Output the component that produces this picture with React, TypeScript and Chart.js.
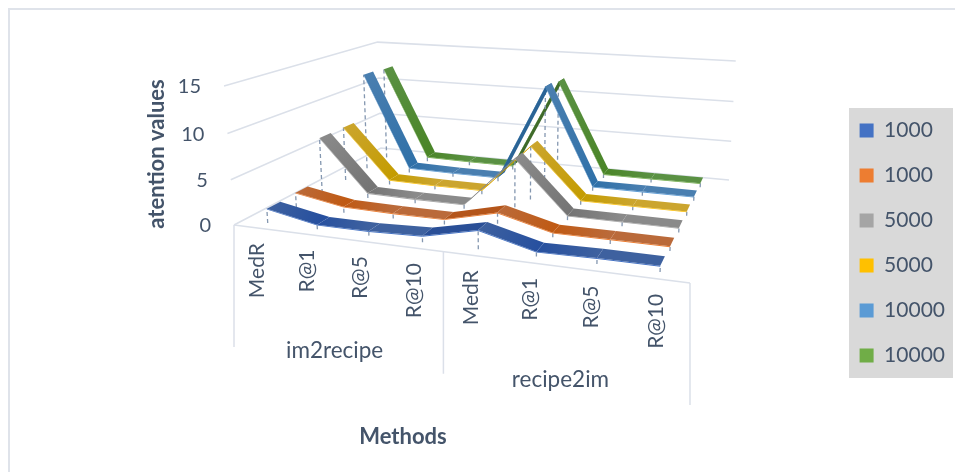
import React, { useEffect, useRef } from "react";
import { Chart, registerables } from "chart.js";

Chart.register(...registerables);

// Axis content
const categories = ["MedR", "R@1", "R@5", "R@10", "MedR", "R@1", "R@5", "R@10"];
const groupLabels = ["im2recipe", "recipe2im"];
const valueTicks = [0, 5, 10, 15];
const seriesNames = ["1000", "1000", "5000", "5000", "10000", "10000"];

// Attention values, one list per series, front of the depth axis first
const series1000a = [1.6, 0.5, 0.5, 0.7, 2.0, 0.5, 0.6, 0.6];
const series1000b = [1.7, 0.7, 0.6, 0.6, 2.0, 0.5, 0.5, 0.5];
const series5000a = [6.7, 0.6, 0.5, 0.5, 6.4, 0.5, 0.5, 0.5];
const series5000b = [6.7, 0.6, 0.5, 0.5, 6.4, 0.5, 0.5, 0.5];
const series10000a = [12.3, 0.6, 0.5, 0.5, 12.3, 0.5, 0.5, 0.5];
const series10000b = [12.1, 0.6, 0.5, 0.5, 11.9, 0.5, 0.5, 0.5];
const allSeries = [series1000a, series1000b, series5000a, series5000b, series10000a, series10000b];

// Shading of each tape: swatch/edge, shadowed stretch, lit stretch, climbing stretch
const edgeColors = ["#4472c4", "#ed7d31", "#a5a5a5", "#ffc000", "#5b9bd5", "#70ad47"];
const deepColors = ["#27509f", "#c05a14", "#747474", "#c49c00", "#2f70a8", "#4a8527"];
const hazeColors = ["#3e619f", "#ba6a3a", "#8a8a8a", "#cba52e", "#4a7fb0", "#5a9143"];
const riseColors = ["#2a4f97", "#b4551a", "#7f7f7f", "#bf9000", "#2a6496", "#3f6b2a"];

const INK = "#44546a";
const GRID = "#dbe0e9";
const DROP = "#8497b0";
const FONT = "Lato";
const PAD_TOP = 14;
const PAD_RIGHT = 0;
const MAX_VALUE = 15;
const CATEGORY_COUNT = categories.length;
const TAPE_DEPTH = 0.075;
const TAPE_THICKNESS = 0.1;
const PANEL_DROP = 122;

type Pt = { x: number; y: number };

// Perspective camera: maps (along, depth, height), each 0..1, onto the canvas plane
function camera(u: number, w: number, z: number): Pt {
  const den = -0.15076 * u + 0.32727 * w - 0.035 * z + 1;
  return {
    x: (351.97 * u + 271.69 * w - 17.8 * z + 234) / den,
    y: (15.33 * u - 28.56 * w - 142 * z + 225) / den,
  };
}

const depthOf = (s: number) => 0.05 + 0.165 * s;
const alongOf = (c: number) => (c + 0.5) / CATEGORY_COUNT;
const point = (c: number, w: number, v: number) => camera(alongOf(c), w, v / MAX_VALUE);

function gridLine(points: Pt[]) {
  return {
    data: points,
    borderColor: GRID,
    borderWidth: 1.5,
    pointRadius: 0,
    fill: false,
    tension: 0,
    clip: false,
  };
}

function face(points: Pt[], background: any) {
  return {
    data: [...points, points[0]],
    backgroundColor: background,
    borderWidth: 0,
    pointRadius: 0,
    fill: "shape",
    tension: 0,
    clip: false,
  };
}

// Colour run of the top face for each stretch between two categories
function stretchColors(s: number, i: number): [string, string] {
  const deep = deepColors[s];
  const haze = hazeColors[s];
  const stage = i % 7;
  if (stage === 0 || stage === 4) return [haze, deep];
  if (stage === 1 || stage === 5) return [deep, haze];
  if (stage === 3) return [riseColors[s], riseColors[s]];
  return [haze, haze];
}

function buildDatasets() {
  const sets: any[] = [];

  // Side and back walls
  valueTicks.forEach((t) => {
    const z = t / MAX_VALUE;
    sets.push(gridLine([camera(0, 0, z), camera(0, 1, z), camera(1, 1, z)]));
  });

  // Front panel that carries the category labels
  const floorFront = [camera(0, 0, 0), camera(0.5, 0, 0), camera(1, 0, 0)];
  sets.push(gridLine([floorFront[0], floorFront[2]]));
  floorFront.forEach((p) => sets.push(gridLine([p, { x: p.x, y: p.y + PANEL_DROP }])));

  // Back series first so nearer tapes cover them
  for (let s = allSeries.length - 1; s >= 0; s--) {
    const values = allSeries[s];
    const near = depthOf(s);
    const far = near + TAPE_DEPTH;

    values.forEach((v, c) => {
      sets.push({
        data: [point(c, near, 0), point(c, near, v)],
        borderColor: DROP,
        borderWidth: 1.3,
        borderDash: [4, 3],
        pointRadius: 0,
        fill: false,
        clip: false,
      });
    });

    for (let c = 0; c < values.length - 1; c++) {
      const a = values[c];
      const b = values[c + 1];
      sets.push(
        face(
          [
            point(c, near, a),
            point(c + 1, near, b),
            point(c + 1, near, b - TAPE_THICKNESS),
            point(c, near, a - TAPE_THICKNESS),
          ],
          edgeColors[s]
        )
      );
      const [from, to] = stretchColors(s, c);
      const start = point(c, near, a);
      const end = point(c + 1, near, b);
      sets.push(
        face([start, end, point(c + 1, far, b), point(c, far, a)], (ctx: any) => {
          // Scale values equal canvas pixels, so the gradient can run between data points
          const g = ctx.chart.ctx.createLinearGradient(start.x, start.y, end.x, end.y);
          g.addColorStop(0, from);
          g.addColorStop(1, to);
          return g;
        })
      );
    }
  }

  // The first dataset is painted last
  return sets.reverse();
}

const chartDecor = {
  id: "chartDecor",
  beforeDraw(chart: any) {
    const { ctx } = chart;
    ctx.save();
    ctx.fillStyle = "#ffffff";
    ctx.fillRect(0, 0, chart.width, chart.height);
    ctx.fillStyle = "#dfe3ea";
    ctx.fillRect(8, 8, 947, 2);
    ctx.fillRect(8, 8, 2, 464);
    ctx.fillStyle = "#d9d9d9";
    ctx.fillRect(849, 108, 104, 270);
    ctx.restore();
  },
  afterDraw(chart: any) {
    const { ctx } = chart;
    const px = (p: Pt) => ({
      x: chart.scales.x.getPixelForValue(p.x),
      y: chart.scales.y.getPixelForValue(p.y),
    });
    ctx.save();
    ctx.fillStyle = INK;
    ctx.textBaseline = "middle";

    ctx.font = `20px ${FONT}`;
    ctx.textAlign = "right";
    valueTicks.forEach((t) => {
      const p = px(camera(0, 0, t / MAX_VALUE));
      ctx.fillText(String(t), p.x - 23, p.y + 1);
    });

    ctx.font = `21px ${FONT}`;
    categories.forEach((label, c) => {
      const p = px(camera(alongOf(c), 0, 0));
      ctx.save();
      ctx.translate(p.x - 1, p.y + 15);
      ctx.rotate(-Math.PI / 2);
      ctx.textAlign = "right";
      ctx.fillText(label, 0, 0);
      ctx.restore();
    });

    ctx.textAlign = "center";
    ctx.font = `22.5px ${FONT}`;
    groupLabels.forEach((label, g) => {
      const p = px(camera((g + 0.5) / groupLabels.length, 0, 0));
      ctx.fillText(label, p.x + (g === 0 ? 0 : -1), p.y + 113);
    });

    ctx.font = `bold 22px ${FONT}`;
    ctx.fillText("Methods", 403, 437);
    ctx.save();
    ctx.translate(157, 154);
    ctx.rotate(-Math.PI / 2);
    ctx.fillText("atention values", 0, 0);
    ctx.restore();
    ctx.restore();
  },
};

export default function App() {
  const canvasRef = useRef<HTMLCanvasElement | null>(null);

  useEffect(() => {
    if (!canvasRef.current) return;
    const chart = new Chart(canvasRef.current, {
      type: "line",
      data: { datasets: buildDatasets() },
      plugins: [chartDecor],
      options: {
        animation: false,
        responsive: false,
        layout: { padding: { top: PAD_TOP, right: PAD_RIGHT } },
        plugins: {
          tooltip: { enabled: false },
          legend: {
            position: "right",
            labels: {
              boxWidth: 14,
              boxHeight: 14,
              padding: 24,
              color: INK,
              font: { family: FONT, size: 21 },
              generateLabels: () =>
                seriesNames.map((text, i) => ({
                  text,
                  fillStyle: edgeColors[i],
                  strokeStyle: "transparent",
                  lineWidth: 0,
                  hidden: false,
                  fontColor: INK,
                })),
            },
          },
        },
        // Both scales read in canvas pixels, so the camera output lands directly on them
        scales: {
          x: {
            type: "linear",
            display: false,
            bounds: "data",
            afterDataLimits: (scale: any) => {
              scale.min = 0;
              scale.max = scale.width;
            },
          },
          y: {
            type: "linear",
            display: false,
            reverse: true,
            bounds: "data",
            afterDataLimits: (scale: any) => {
              scale.min = PAD_TOP;
              scale.max = PAD_TOP + scale.height;
            },
          },
        },
      } as any,
    } as any);
    return () => chart.destroy();
  }, []);

  return (
    <div style={{ position: "fixed", left: 0, top: 0, width: 955, height: 472, background: "#fff" }}>
      <canvas ref={canvasRef} width={955} height={472} style={{ display: "block" }} />
    </div>
  );
}
